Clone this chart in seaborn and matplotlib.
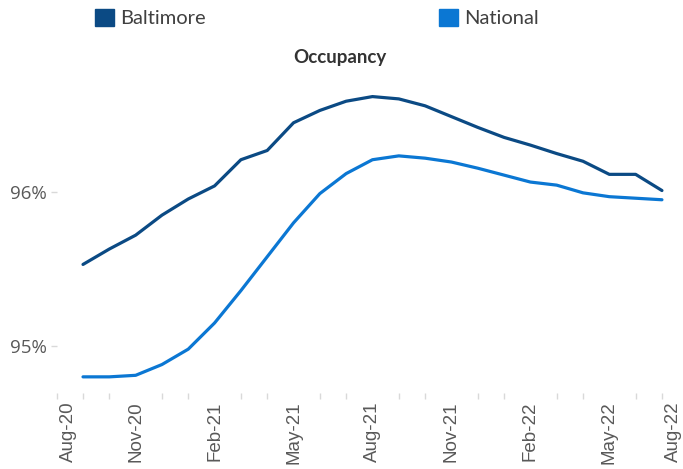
import matplotlib
matplotlib.use("Agg")
import matplotlib.pyplot as plt
from matplotlib.patches import Patch
import seaborn as sns
import pandas as pd

# Monthly occupancy, Sep-20 .. Jul-22
months = ["Sep-20", "Oct-20", "Nov-20", "Dec-20", "Jan-21", "Feb-21", "Mar-21",
          "Apr-21", "May-21", "Jun-21", "Jul-21", "Aug-21", "Sep-21", "Oct-21",
          "Nov-21", "Dec-21", "Jan-22", "Feb-22", "Mar-22", "Apr-22", "May-22",
          "Jun-22", "Jul-22"]
baltimore = [95.53, 95.63, 95.72, 95.85, 95.955, 96.04, 96.21, 96.27, 96.45,
             96.53, 96.59, 96.62, 96.605, 96.56, 96.49, 96.42, 96.355, 96.305,
             96.25, 96.20, 96.115, 96.115, 96.01]
national = [94.80, 94.80, 94.81, 94.88, 94.98, 95.15, 95.36, 95.58, 95.80,
            95.99, 96.12, 96.21, 96.235, 96.22, 96.195, 96.155, 96.11, 96.065,
            96.045, 95.995, 95.97, 95.96, 95.95]

tick_labels = ["Aug-20", "Nov-20", "Feb-21", "May-21", "Aug-21", "Nov-21",
               "Feb-22", "May-22", "Aug-22"]

colors = {"Baltimore": "#0B4A84", "National": "#0B77D3"}

n = len(months)
df = pd.DataFrame({
    "idx": list(range(n)) * 2,
    "occ": baltimore + national,
    "series": ["Baltimore"] * n + ["National"] * n,
})

sns.set_theme(style="white")
fig = plt.figure(figsize=(6.83, 4.69), dpi=100)
ax = fig.add_axes([0.083, 0.162, 0.917, 0.724])

sns.lineplot(data=df, x="idx", y="occ", hue="series", palette=colors,
             linewidth=2.3, legend=False, ax=ax)

ax.set_xlim(-1, 22.8)
ax.set_ylim(94.695, 96.9)
for s in ax.spines.values():
    s.set_visible(False)

# x axis: month ticks, labels every quarter
ax.set_xticks(range(-1, n), minor=True)
ax.set_xticks([-0.55, 2, 5, 8, 11, 14, 17, 20, 22.42])
ax.set_xticklabels(tick_labels, rotation=90, fontsize=13.5, color="#595959",
                   family="Liberation Sans")
ax.tick_params(axis="x", which="major", length=0, pad=6)
ax.tick_params(axis="x", which="minor", length=4, color="#d9d9d9", width=1,
               bottom=True)

ax.set_yticks([95, 96])
ax.set_yticklabels(["95%", "96%"], fontsize=13.5, color="#595959",
                   family="Open Sans")
ax.tick_params(axis="y", length=4, color="#d9d9d9", width=1, left=True, pad=3)

ax.set_xlabel("")
ax.set_ylabel("")

fig.text(0.497, 0.878, "Occupancy", ha="center", va="center", fontsize=13.5,
         fontweight="bold", color="#333333", family="Lato")

handles = [Patch(color=colors["Baltimore"], label="Baltimore"),
           Patch(color=colors["National"], label="National")]
fig.legend(handles=handles, loc="center", bbox_to_anchor=(0.464, 0.962),
           ncol=2, frameon=False, handlelength=0.95, handleheight=0.95,
           handletextpad=0.3, columnspacing=11.6,
           prop={"family": "Lato", "size": 14.5}, labelcolor="#404040")

fig.savefig("out.png", dpi=100)
